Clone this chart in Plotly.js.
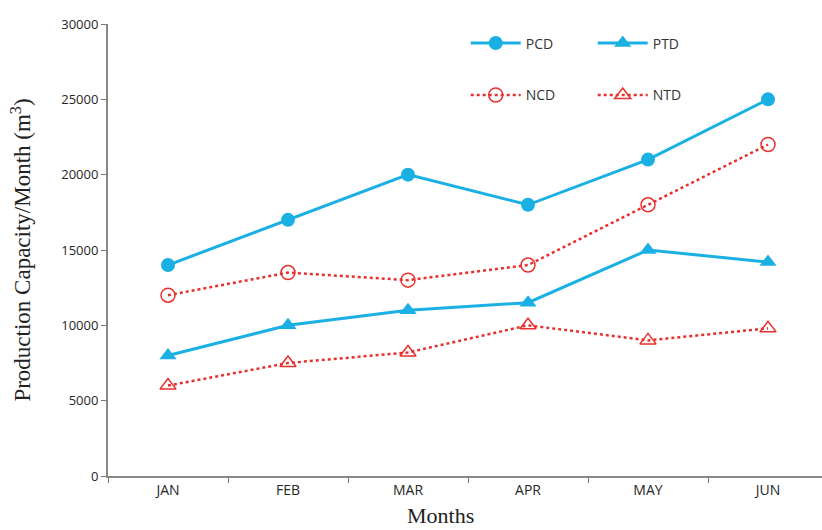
<!DOCTYPE html>
<html><head><meta charset="utf-8">
<script src="https://cdn.plot.ly/plotly-3.0.1.min.js"></script>
<style>html,body{margin:0;padding:0;background:#fff}#chart{width:822px;height:530px}</style>
</head><body><div id="chart"></div>
<script>
const months = ["JAN","FEB","MAR","APR","MAY","JUN"];
const pcd = [14000, 17000, 20000, 18000, 21000, 25000];
const ncd = [12000, 13500, 13000, 14000, 18000, 22000];
const ptd = [8000, 10000, 11000, 11500, 15000, 14200];
const ntd = [6000, 7500, 8200, 10000, 9000, 9800];
const yTicks = [0, 5000, 10000, 15000, 20000, 25000, 30000];

const blue = "#1ab0e4", red = "#e8302e";
const traces = [
  {x: months, y: pcd, name: "PCD", mode: "lines+markers", line: {color: blue, width: 3}, marker: {symbol: "circle", size: 14, color: blue}, legend: "legend"},
  {x: months, y: ptd, name: "PTD", mode: "lines+markers", line: {color: blue, width: 3}, marker: {symbol: "triangle-up", size: 15, color: blue}, legend: "legend"},
  {x: months, y: ncd, name: "NCD", mode: "lines+markers", line: {color: red, width: 2.5, dash: "dot"}, marker: {symbol: "circle-open", size: 14, color: red, line: {width: 1.5, color: red}}, legend: "legend2"},
  {x: months, y: ntd, name: "NTD", mode: "lines+markers", line: {color: red, width: 2.5, dash: "dot"}, marker: {symbol: "triangle-up-open", size: 14, color: red, line: {width: 1.5, color: red}}, legend: "legend2"}
];
const sans = "Open Sans, Liberation Sans, sans-serif";
const serif = "Liberation Serif, Times New Roman, serif";
const legFont = {family: sans, size: 14, color: "#333"};
const tickFont = {family: sans, size: 13, color: "#262626"};
const layout = {
  width: 822, height: 530,
  margin: {l: 108, r: 0, t: 24, b: 54},
  paper_bgcolor: "#fff", plot_bgcolor: "#fff",
  showlegend: true,
  font: {family: sans, size: 13, color: "#262626"},
  xaxis: {
    type: "category", range: [-0.5, 5.45], tickson: "boundaries",
    ticks: "outside", ticklen: 5, tickcolor: "#777", tickwidth: 1,
    showline: true, linecolor: "#888", linewidth: 2, showgrid: false, zeroline: false,
    tickfont: {family: sans, size: 14, color: "#262626"}
  },
  yaxis: {
    range: [0, 30000], tickvals: yTicks, ticktext: yTicks.map(String),
    ticks: "outside", ticklen: 5, tickcolor: "#777", tickwidth: 1,
    showline: true, linecolor: "#888", linewidth: 2, showgrid: false, zeroline: false,
    tickfont: tickFont,
    title: {text: "Production Capacity/Month (m<sup>3</sup>)", font: {family: serif, size: 23, color: "#222"}, standoff: 24}
  },
  annotations: [{
    text: "Months", xref: "paper", yref: "paper", x: 0.465, y: -0.088,
    xanchor: "center", yanchor: "middle", showarrow: false,
    font: {family: serif, size: 22, color: "#222"}
  }],
  legend: {orientation: "h", x: 0.501, y: 0.957, xanchor: "left", yanchor: "middle", font: legFont, itemwidth: 50, entrywidth: 62, bgcolor: "rgba(0,0,0,0)"},
  legend2: {orientation: "h", x: 0.501, y: 0.842, xanchor: "left", yanchor: "middle", font: legFont, itemwidth: 50, entrywidth: 62, bgcolor: "rgba(0,0,0,0)"}
};
Plotly.newPlot("chart", traces, layout, {displayModeBar: false});
</script></body></html>
